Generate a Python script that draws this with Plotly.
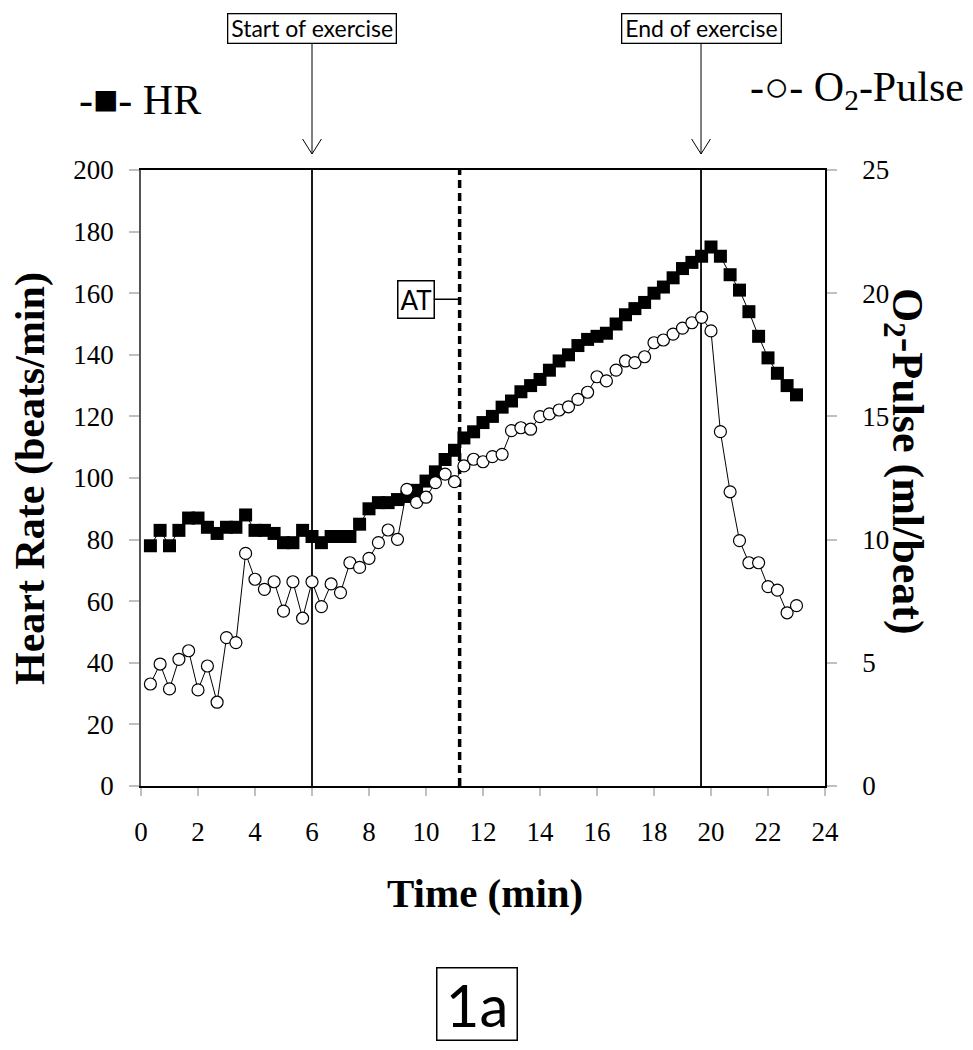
import plotly.graph_objects as go

# ---- data ----
time_min = [0.33, 0.67, 1.00, 1.33, 1.67, 2.00, 2.33, 2.67, 3.00, 3.33,
            3.67, 4.00, 4.33, 4.67, 5.00, 5.33, 5.67, 6.00, 6.33, 6.67,
            7.00, 7.33, 7.67, 8.00, 8.33, 8.67, 9.00, 9.33, 9.67, 10.00,
            10.33, 10.67, 11.00, 11.33, 11.67, 12.00, 12.33, 12.67, 13.00, 13.33,
            13.67, 14.00, 14.33, 14.67, 15.00, 15.33, 15.67, 16.00, 16.33, 16.67,
            17.00, 17.33, 17.67, 18.00, 18.33, 18.67, 19.00, 19.33, 19.67, 20.00,
            20.33, 20.67, 21.00, 21.33, 21.67, 22.00, 22.33, 22.67, 23.00]

heart_rate = [78, 83, 78, 83, 87, 87, 84, 82, 84, 84,
              88, 83, 83, 82, 79, 79, 83, 81, 79, 81,
              81, 81, 85, 90, 92, 92, 93, 94, 96, 99,
              102, 106, 109, 113, 115, 118, 120, 123, 125, 128,
              130, 132, 135, 138, 140, 143, 145, 146, 147, 150,
              153, 155, 157, 160, 162, 165, 168, 170, 172, 175,
              172, 166, 161, 154, 146, 139, 134, 130, 127]

o2_pulse = [4.14, 4.95, 3.94, 5.14, 5.49, 3.90, 4.87, 3.40, 6.02, 5.82,
            9.44, 8.39, 7.98, 8.29, 7.10, 8.29, 6.81, 8.29, 7.28, 8.20,
            7.85, 9.06, 8.87, 9.24, 9.88, 10.39, 10.01, 12.04, 11.51, 11.72,
            12.31, 12.66, 12.35, 12.99, 13.26, 13.16, 13.37, 13.46, 14.42, 14.54,
            14.48, 14.99, 15.10, 15.26, 15.39, 15.69, 15.98, 16.61, 16.44, 16.88,
            17.25, 17.18, 17.42, 17.99, 18.10, 18.34, 18.58, 18.80, 19.02, 18.47,
            14.38, 11.94, 9.96, 9.06, 9.06, 8.09, 7.95, 7.03, 7.32]

x_ticks = [0, 2, 4, 6, 8, 10, 12, 14, 16, 18, 20, 22, 24]
hr_ticks = [0, 20, 40, 60, 80, 100, 120, 140, 160, 180, 200]
o2_ticks = [0, 5, 10, 15, 20, 25]

start_exercise = 6.0
end_exercise = 19.65
anaerobic_threshold = 11.18
at_label_hr = 158

SERIF = "Liberation Serif, Times New Roman, serif"
SANS = "Lato, Open Sans, sans-serif"

# page has an 8px body margin; plot area in page pixels: x 141..825, y 170..786
PL, PR, PT, PB = 141, 825, 170, 786


def px_x(px):
    return (px - PL) / float(PR - PL)


def px_y(py):
    return (PB - py) / float(PB - PT)


fig = go.Figure()

fig.add_trace(go.Scatter(
    x=time_min, y=heart_rate, mode="lines+markers", name="HR",
    line=dict(color="black", width=1),
    marker=dict(symbol="square", size=13, color="black"),
    yaxis="y", showlegend=False))

fig.add_trace(go.Scatter(
    x=time_min, y=o2_pulse, mode="lines+markers", name="O2-Pulse",
    line=dict(color="black", width=1),
    marker=dict(symbol="circle", size=12, color="white",
                line=dict(color="black", width=1.2)),
    yaxis="y2", showlegend=False))

shapes = []
for xv in (start_exercise, end_exercise):
    shapes.append(dict(type="line", xref="x", yref="paper", x0=xv, x1=xv,
                       y0=0, y1=1, line=dict(color="black", width=1.8), layer="below"))
shapes.append(dict(type="line", xref="x", yref="paper", x0=anaerobic_threshold,
                   x1=anaerobic_threshold, y0=0, y1=1,
                   line=dict(color="black", width=3.5, dash="8px,5px"), layer="below"))

for xv in (start_exercise, end_exercise):
    shapes.append(dict(type="line", xref="x", yref="paper", x0=xv, x1=xv,
                       y0=px_y(44), y1=px_y(154),
                       line=dict(color="black", width=1)))
    shapes.append(dict(type="path", xref="x", yref="paper",
                       path=f"M {xv-0.33},{px_y(139)} L {xv},{px_y(154)} L {xv+0.33},{px_y(139)}",
                       line=dict(color="black", width=1)))

annotations = [
    dict(text="&#8201;Start of exercise&#8201;", x=start_exercise, xref="x", y=px_y(29), yref="paper",
         xanchor="center", yanchor="middle",
         showarrow=False, font=dict(family=SANS, size=23, color="black"),
         bordercolor="black", borderwidth=1.3, borderpad=0, bgcolor="white"),
    dict(text="&#8201;End of exercise&#8201;", x=end_exercise, xref="x", y=px_y(29), yref="paper",
         xanchor="center", yanchor="middle",
         showarrow=False, font=dict(family=SANS, size=23, color="black"),
         bordercolor="black", borderwidth=1.3, borderpad=0, bgcolor="white"),
    dict(text="AT", x=anaerobic_threshold, y=at_label_hr, xref="x", yref="y",
         showarrow=True, arrowhead=0, arrowwidth=1.5, arrowcolor="black",
         ax=-44, ay=0, font=dict(family=SANS, size=26, color="black"),
         bordercolor="black", borderwidth=1.5, borderpad=2, bgcolor="white"),
    dict(text="-■- HR", x=px_x(77), xanchor="left", y=px_y(100), yanchor="middle",
         yref="paper", xref="paper", showarrow=False,
         font=dict(family=SERIF, size=42, color="black")),
    dict(text="-○- O<sub>2</sub>-Pulse", x=px_x(966), xanchor="right",
         y=px_y(90), yanchor="middle", yref="paper", xref="paper", showarrow=False,
         font=dict(family=SERIF, size=42, color="black")),
    dict(text="<b>Heart Rate (beats/min)</b>", x=px_x(30), xref="paper",
         xanchor="center", yanchor="middle",
         y=px_y(479), yref="paper", textangle=-90, showarrow=False,
         font=dict(family=SERIF, size=42, color="black")),
    dict(text="<b>O<sub>2</sub>-Pulse (ml/beat)</b>", x=px_x(905), xref="paper",
         xanchor="center", yanchor="middle",
         y=px_y(461), yref="paper", textangle=90, showarrow=False,
         font=dict(family=SERIF, size=44, color="black")),
    dict(text="<b>Time (min)</b>", x=px_x(485), xref="paper", y=px_y(893), yref="paper",
         xanchor="center", yanchor="middle",
         showarrow=False, font=dict(family=SERIF, size=41, color="black")),
    dict(text="&#8201;1a&#8201;", x=px_x(477), xref="paper", y=px_y(1004), yref="paper",
         xanchor="center", yanchor="middle",
         showarrow=False, font=dict(family=SANS, size=58, color="black"),
         bordercolor="black", borderwidth=1.5, borderpad=1, bgcolor="white"),
]

fig.update_layout(
    width=973, height=1050,
    margin=dict(l=PL - 8, r=973 + 8 - PR, t=PT - 8, b=1050 + 8 - PB),
    paper_bgcolor="white", plot_bgcolor="white",
    shapes=shapes, annotations=annotations,
    xaxis=dict(range=[0, 24], tickvals=x_ticks, ticktext=[str(v) for v in x_ticks],
               showgrid=False, zeroline=False, showline=True, linecolor="black",
               linewidth=1.5, mirror=True, ticks="outside", ticklen=8,
               tickcolor="#c0c0c0", tickwidth=1.5, ticklabelstandoff=13,
               tickfont=dict(family=SERIF, size=27, color="black")),
    yaxis=dict(range=[0, 200], tickvals=hr_ticks, ticktext=[str(v) for v in hr_ticks],
               showgrid=False, zeroline=False, showline=True, linecolor="#555555",
               linewidth=1.5, ticks="outside", ticklen=10, tickcolor="#c0c0c0",
               tickwidth=1.5, ticklabelstandoff=10,
               tickfont=dict(family=SERIF, size=27, color="black")),
    yaxis2=dict(range=[0, 25], tickvals=o2_ticks, ticktext=[str(v) for v in o2_ticks],
                overlaying="y", side="right", showgrid=False, zeroline=False,
                showline=True, linecolor="black", linewidth=1.5, ticks="outside",
                ticklen=10, tickcolor="#c0c0c0", tickwidth=1.5, ticklabelstandoff=20,
                tickfont=dict(family=SERIF, size=27, color="black")),
)

fig.write_html("out.html")
